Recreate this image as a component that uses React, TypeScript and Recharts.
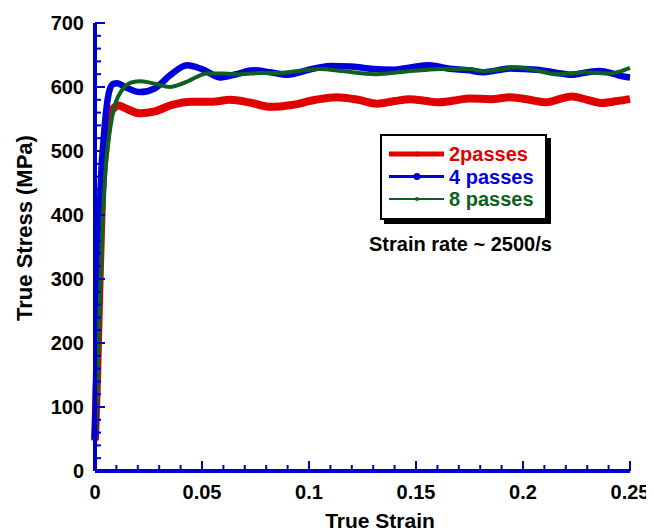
import React from "react";
import { LineChart, Line, XAxis, YAxis, Legend } from "recharts";

const series2Passes = [
  { x: 0, y: 48 }, { x: 0.001, y: 150 }, { x: 0.002, y: 280 }, { x: 0.0034, y: 440 },
  { x: 0.005, y: 505 }, { x: 0.0065, y: 553 }, { x: 0.0085, y: 566 }, { x: 0.011, y: 571 },
  { x: 0.014, y: 567 }, { x: 0.021, y: 559 }, { x: 0.028, y: 562 }, { x: 0.036, y: 572 },
  { x: 0.045, y: 577 }, { x: 0.055, y: 577 }, { x: 0.063, y: 580 }, { x: 0.072, y: 576 },
  { x: 0.082, y: 569 }, { x: 0.092, y: 572 }, { x: 0.103, y: 580 }, { x: 0.113, y: 584 },
  { x: 0.123, y: 580 }, { x: 0.132, y: 574 }, { x: 0.14, y: 578 }, { x: 0.147, y: 581 },
  { x: 0.155, y: 578 }, { x: 0.16, y: 576 }, { x: 0.168, y: 579 }, { x: 0.175, y: 582 },
  { x: 0.185, y: 581 }, { x: 0.194, y: 584 }, { x: 0.203, y: 580 }, { x: 0.211, y: 576 },
  { x: 0.217, y: 581 }, { x: 0.223, y: 585 }, { x: 0.23, y: 580 }, { x: 0.237, y: 575 },
  { x: 0.244, y: 578 }, { x: 0.25, y: 581 },
];

const series4Passes = [
  { x: 0, y: 50 }, { x: 0.0008, y: 200 }, { x: 0.002, y: 380 }, { x: 0.003, y: 470 },
  { x: 0.004, y: 517 }, { x: 0.0054, y: 568 }, { x: 0.0068, y: 595 }, { x: 0.0085, y: 605 },
  { x: 0.0105, y: 606 }, { x: 0.014, y: 600 }, { x: 0.021, y: 592 }, { x: 0.028, y: 598 },
  { x: 0.035, y: 618 }, { x: 0.043, y: 634 }, { x: 0.05, y: 628 }, { x: 0.0587, y: 615 },
  { x: 0.066, y: 620 }, { x: 0.074, y: 626 }, { x: 0.082, y: 623 }, { x: 0.09, y: 619 },
  { x: 0.1, y: 627 }, { x: 0.11, y: 633 }, { x: 0.12, y: 632 }, { x: 0.13, y: 628 },
  { x: 0.14, y: 627 }, { x: 0.148, y: 631 }, { x: 0.156, y: 634 }, { x: 0.165, y: 629 },
  { x: 0.175, y: 626 }, { x: 0.181, y: 623 }, { x: 0.188, y: 626 }, { x: 0.194, y: 629 },
  { x: 0.201, y: 628 }, { x: 0.209, y: 626 }, { x: 0.216, y: 622 }, { x: 0.223, y: 619 },
  { x: 0.23, y: 623 }, { x: 0.236, y: 625 }, { x: 0.242, y: 621 }, { x: 0.246, y: 617 },
  { x: 0.25, y: 615 },
];

const series8Passes = [
  { x: 0, y: 35 }, { x: 0.0008, y: 100 }, { x: 0.002, y: 230 }, { x: 0.0034, y: 380 },
  { x: 0.0042, y: 430 }, { x: 0.005, y: 475 }, { x: 0.0065, y: 521 }, { x: 0.008, y: 553 },
  { x: 0.0096, y: 575 }, { x: 0.0126, y: 595 }, { x: 0.017, y: 607 }, { x: 0.0215, y: 609 },
  { x: 0.028, y: 605 }, { x: 0.035, y: 600 }, { x: 0.042, y: 607 }, { x: 0.0526, y: 621 },
  { x: 0.06, y: 621 }, { x: 0.068, y: 620 }, { x: 0.078, y: 622 }, { x: 0.0866, y: 622 },
  { x: 0.095, y: 625 }, { x: 0.105, y: 628 }, { x: 0.115, y: 625 }, { x: 0.123, y: 622 },
  { x: 0.132, y: 620 }, { x: 0.142, y: 623 }, { x: 0.152, y: 626 }, { x: 0.162, y: 628 },
  { x: 0.17, y: 628 }, { x: 0.175, y: 628 }, { x: 0.181, y: 625 }, { x: 0.189, y: 627 },
  { x: 0.197, y: 631 }, { x: 0.206, y: 626 }, { x: 0.216, y: 620 }, { x: 0.222, y: 621 },
  { x: 0.228, y: 623 }, { x: 0.235, y: 622 }, { x: 0.24, y: 621 }, { x: 0.245, y: 624 },
  { x: 0.25, y: 630 },
];

const xTicks = [
  0, 0.01, 0.02, 0.03, 0.04, 0.05, 0.06, 0.07, 0.08, 0.09, 0.1, 0.11, 0.12, 0.13,
  0.14, 0.15, 0.16, 0.17, 0.18, 0.19, 0.2, 0.21, 0.22, 0.23, 0.24, 0.25,
];
const xLabels = ["0", "0.05", "0.1", "0.15", "0.2", "0.25"];
const yTicks = [
  0, 20, 40, 60, 80, 100, 120, 140, 160, 180, 200, 220, 240, 260, 280, 300, 320, 340,
  360, 380, 400, 420, 440, 460, 480, 500, 520, 540, 560, 580, 600, 620, 640, 660, 680, 700,
];
const yLabels = ["0", "100", "200", "300", "400", "500", "600", "700"];

const seriesNames = ["2passes", "4 passes", "8 passes"];
const seriesColors = ["#e00000", "#0000d8", "#0d6120"];
const seriesWidths = [8, 6.5, 4];
const legendWidths = [5, 3, 2];
const legendDots = [2.5, 3.5, 2];

const AXIS = "#0000cc";
const FONT = "Arial, 'Liberation Sans', sans-serif";

const xLabelOf = (v: number) => {
  const s = String(Math.round(v * 100) / 100);
  return xLabels.includes(s) ? s : null;
};
const yLabelOf = (v: number) => {
  const s = String(v);
  return yLabels.includes(s) ? s : null;
};

const BottomTick = (props: any) => {
  const { x, y, payload } = props;
  const lab = xLabelOf(payload.value);
  const len = lab ? 10 : 6;
  return (
    <g>
      <line x1={x} y1={y} x2={x} y2={y - len} stroke={AXIS} strokeWidth={2} />
      {lab && (
        <text x={x} y={y + 28} textAnchor="middle" fontFamily={FONT} fontWeight="bold" fontSize={20} fill="#000">
          {lab}
        </text>
      )}
    </g>
  );
};

const TopTick = (props: any) => {
  const { x, y, payload } = props;
  const lab = xLabelOf(payload.value);
  const len = lab ? 10 : 6;
  return <line x1={x} y1={y} x2={x} y2={y + len} stroke={AXIS} strokeWidth={2} />;
};

const LeftTick = (props: any) => {
  const { x, y, payload } = props;
  const lab = yLabelOf(payload.value);
  const len = lab ? 10 : 6;
  return (
    <g>
      <line x1={x} y1={y} x2={x + len} y2={y} stroke={AXIS} strokeWidth={2} />
      {lab && (
        <text x={x - 11} y={y + 7} textAnchor="end" fontFamily={FONT} fontWeight="bold" fontSize={20} fill="#000">
          {lab}
        </text>
      )}
    </g>
  );
};

const RightTick = (props: any) => {
  const { x, y, payload } = props;
  const lab = yLabelOf(payload.value);
  const len = lab ? 10 : 6;
  return <line x1={x} y1={y} x2={x - len} y2={y} stroke={AXIS} strokeWidth={2} />;
};

const LegendBox = () => (
  <div
    style={{
      width: 163,
      height: 82,
      background: "#fff",
      border: "2px solid #000",
      boxShadow: "4px 4px 0 #000",
      position: "relative",
      fontFamily: FONT,
    }}
  >
    <svg width={163} height={82} style={{ position: "absolute", left: 0, top: 0 }}>
      {seriesNames.map((name, i) => {
        const cy = 18 + i * 22.5;
        return (
          <g key={name}>
            <line x1={7} y1={cy} x2={62} y2={cy} stroke={seriesColors[i]} strokeWidth={legendWidths[i]} />
            <circle cx={35} cy={cy} r={legendDots[i]} fill={seriesColors[i]} />
            <text x={67} y={cy + 7} fontFamily={FONT} fontWeight="bold" fontSize={20} fill={seriesColors[i]}>
              {name}
            </text>
          </g>
        );
      })}
    </svg>
  </div>
);

export default function App() {
  return (
    <div style={{ position: "relative", width: 646, height: 523 }}>
      <LineChart width={646} height={523} margin={{ top: 15, right: 24, bottom: 0, left: 0 }}>
        <XAxis
          xAxisId="bottom"
          type="number"
          dataKey="x"
          domain={[0, 0.25]}
          ticks={xTicks}
          interval={0}
          height={60}
          tickSize={0}
          tickMargin={0}
          tickLine={false}
          axisLine={{ stroke: AXIS, strokeWidth: 4 }}
          tick={<BottomTick />}
          label={{
            content: () => (
              <text x={372} y={520} textAnchor="middle" fontFamily={FONT} fontWeight="bold" fontSize={21} fill="#000">
                True Strain
              </text>
            ),
          }}
        />
        <XAxis
          xAxisId="top"
          orientation="top"
          type="number"
          dataKey="x"
          domain={[0, 0.25]}
          ticks={xTicks}
          interval={0}
          height={0}
          tickSize={0}
          tickMargin={0}
          tickLine={false}
          axisLine={{ stroke: AXIS, strokeWidth: 4 }}
          tick={<TopTick />}
        />
        <YAxis
          yAxisId="left"
          type="number"
          domain={[0, 700]}
          ticks={yTicks}
          interval={0}
          width={87}
          tickSize={0}
          tickMargin={0}
          tickLine={false}
          axisLine={{ stroke: AXIS, strokeWidth: 4 }}
          tick={<LeftTick />}
          label={{
            content: () => (
              <text
                x={23.5}
                y={220}
                transform="rotate(-90 23.5 220)"
                textAnchor="middle"
                fontFamily={FONT}
                fontWeight="bold"
                fontSize={22}
                fill="#000"
              >
                True Stress (MPa)
              </text>
            ),
          }}
        />
        <YAxis
          yAxisId="right"
          orientation="right"
          type="number"
          domain={[0, 700]}
          ticks={yTicks}
          interval={0}
          width={0}
          tickSize={0}
          tickMargin={0}
          tickLine={false}
          axisLine={{ stroke: AXIS, strokeWidth: 4 }}
          tick={<RightTick />}
        />
        {[series2Passes, series4Passes, series8Passes].map((d, i) => (
          <Line
            key={seriesNames[i]}
            xAxisId="bottom"
            yAxisId="left"
            data={d}
            dataKey="y"
            name={seriesNames[i]}
            type="monotone"
            stroke={seriesColors[i]}
            strokeWidth={seriesWidths[i]}
            dot={false}
            isAnimationActive={false}
          />
        ))}
        <Legend
          layout="horizontal"
          verticalAlign="middle"
          align="center"
          content={() => <LegendBox />}
          wrapperStyle={{ position: "absolute", left: 372, top: 126, width: 167, height: 86 }}
        />
      </LineChart>
      <div
        style={{
          position: "absolute",
          left: 361,
          top: 225,
          fontFamily: FONT,
          fontWeight: "bold",
          fontSize: 20,
          color: "#000",
          whiteSpace: "nowrap",
        }}
      >
        Strain rate ~ 2500/s
      </div>
    </div>
  );
}
